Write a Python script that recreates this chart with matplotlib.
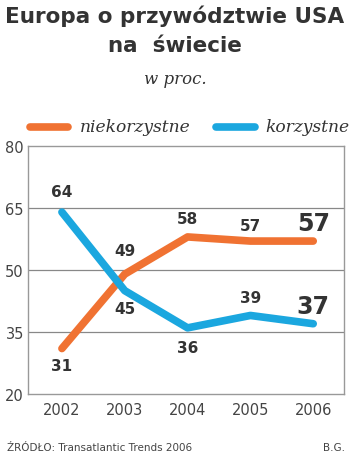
import matplotlib.pyplot as plt
from matplotlib.lines import Line2D

years = [2002, 2003, 2004, 2005, 2006]
niekorzystne = [31, 49, 58, 57, 57]
korzystne = [64, 45, 36, 39, 37]
y_ticks = [20, 35, 50, 65, 80]

ORANGE = "#F07232"
BLUE = "#1BA7DF"
DARK = "#333333"

W, H = 350, 460
fig = plt.figure(figsize=(W / 100, H / 100), dpi=100)
ax = fig.add_axes([28 / W, 1 - 395 / H, (344 - 28) / W, (395 - 147) / H])

ax.plot(years, niekorzystne, color=ORANGE, lw=5.5, solid_capstyle="round", solid_joinstyle="round", zorder=3)
ax.plot(years, korzystne, color=BLUE, lw=5.5, solid_capstyle="round", solid_joinstyle="round", zorder=3)

ax.set_xlim(2001.46, 2006.49)
ax.set_ylim(20, 80)
ax.set_yticks(y_ticks)
ax.set_xticks(years)
ax.tick_params(length=0, labelsize=10.5, labelcolor="#444444", pad=6)
ax.tick_params(axis="y", pad=3)
for y in y_ticks[1:-1]:
    ax.axhline(y, color="#888888", lw=0.9, zorder=1)
for s in ax.spines.values():
    s.set_color("#999999")
    s.set_linewidth(1.0)

# value labels next to each point, offset in points
label_font = dict(ha="center", va="center", color=DARK, fontweight="bold")
def put(x, v, dy, size=11):
    ax.annotate(str(v), (x, v), xytext=(0, dy), textcoords="offset points",
                fontsize=size, **label_font)

put(2002, niekorzystne[0], -12)
put(2003, niekorzystne[1], 17)
put(2004, niekorzystne[2], 13)
put(2005, niekorzystne[3], 11)
put(2006, niekorzystne[4], 13, 17)
put(2002, korzystne[0], 15)
put(2003, korzystne[1], -13)
put(2004, korzystne[2], -14)
put(2005, korzystne[3], 13)
put(2006, korzystne[4], 13, 17)

fig.text(0.5, 1 - 16 / H, "Europa o przywództwie USA", ha="center", va="center",
         fontsize=15.5, fontweight="bold", color=DARK)
fig.text(0.5, 1 - 46 / H, "na  świecie", ha="center", va="center",
         fontsize=15.5, fontweight="bold", color=DARK)
fig.text(0.5, 1 - 80 / H, "w proc.", ha="center", va="center",
         fontsize=12, style="italic", family="DejaVu Serif", color=DARK)

# legend drawn by hand
fig.add_artist(Line2D([30 / W, 68 / W], [1 - 128 / H] * 2, color=ORANGE, lw=5.5, solid_capstyle="round"))
fig.text(80 / W, 1 - 128 / H, "niekorzystne", ha="left", va="center",
         fontsize=12.3, style="italic", family="DejaVu Serif", color=DARK)
fig.add_artist(Line2D([216 / W, 255 / W], [1 - 128 / H] * 2, color=BLUE, lw=5.5, solid_capstyle="round"))
fig.text(265 / W, 1 - 128 / H, "korzystne", ha="left", va="center",
         fontsize=12.3, style="italic", family="DejaVu Serif", color=DARK)

fig.text(7 / W, 1 - 448 / H, "ŹRÓDŁO: Transatlantic Trends 2006", ha="left", va="center",
         fontsize=7.5, color="#444444")
fig.text(345 / W, 1 - 448 / H, "B.G.", ha="right", va="center",
         fontsize=7.5, color="#444444")

fig.savefig("out.png", dpi=100)
